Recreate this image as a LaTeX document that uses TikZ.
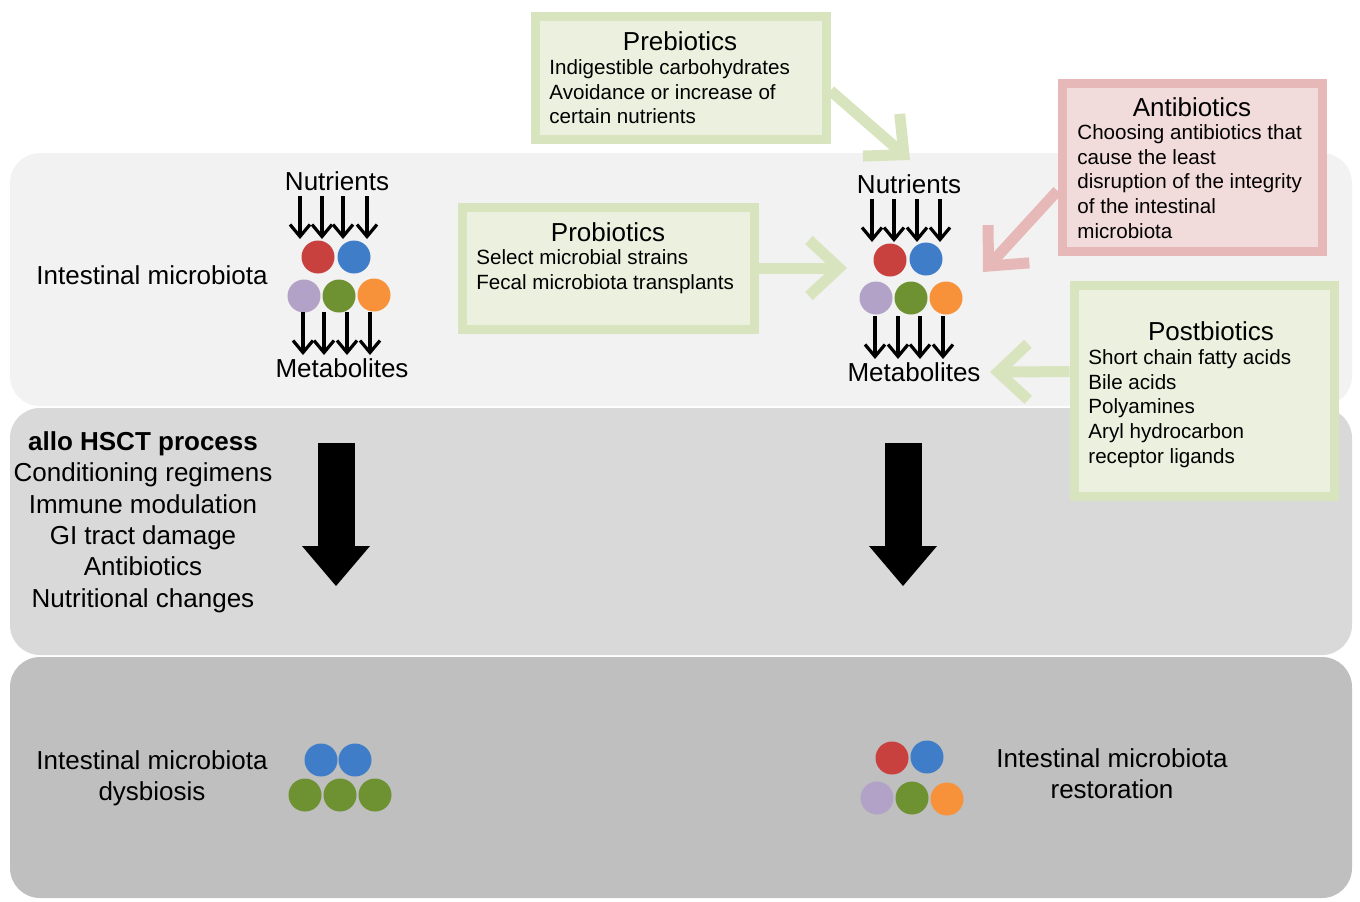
\documentclass[tikz,border=0pt]{standalone}
\usepackage{fontspec}
\setmainfont{Liberation Sans}
\usepackage{tikz}
\usetikzlibrary{arrows.meta,positioning}
\definecolor{bandA}{HTML}{F2F2F2}
\definecolor{bandB}{HTML}{D9D9D9}
\definecolor{bandC}{HTML}{BFBFBF}
\definecolor{greenfill}{HTML}{EBF1DE}
\definecolor{greenline}{HTML}{D7E4BD}
\definecolor{pinkfill}{HTML}{F2DCDB}
\definecolor{pinkline}{HTML}{E6B9B8}
\definecolor{mred}{HTML}{C9413F}
\definecolor{mblue}{HTML}{3F7DC8}
\definecolor{mlilac}{HTML}{B3A2C7}
\definecolor{mgreen}{HTML}{6E9132}
\definecolor{morange}{HTML}{F7923A}
\tikzset{band/.style={rounded corners=15pt,inner sep=0pt,minimum width=671pt}}
\tikzset{gbox/.style={draw=greenline,fill=greenfill,line width=4.5pt,inner sep=0pt}}
\tikzset{rbox/.style={draw=pinkline,fill=pinkfill,line width=4.5pt,inner sep=0pt}}
\tikzset{boxtitle/.style={font=\fontsize{13}{15.5}\selectfont,inner sep=0pt,anchor=base}}
\tikzset{boxbody/.style={font=\fontsize{10.3}{12.4}\selectfont,align=left,inner sep=0pt,anchor=north west}}
\tikzset{txt/.style={font=\fontsize{13}{15.7}\selectfont,inner sep=0pt,align=center}}
\tikzset{bug/.style={circle,inner sep=0pt,minimum size=16.5pt}}
\tikzset{flow/.style={line width=1.6pt,-{Straight Barb[length=6pt,width=10pt]}}}
\tikzset{hint/.style={line width=5.5pt,-{Straight Barb[length=15pt,width=28pt]}}}
\tikzset{bigdown/.style={line width=18.5pt,-{Triangle[length=20pt,width=34pt,line width=0pt]}}}

\begin{document}
\begin{tikzpicture}[x=0.5pt,y=-0.5pt]
    \useasboundingbox (0,0) rectangle (1360,901);
    \node[band,fill=bandA,minimum height=126.5pt] (upper) at (681,279.5) {};
    \node[band,fill=bandB,minimum height=123.5pt] (middle) at (681,531.5) {};
    \node[band,fill=bandC,minimum height=120.5pt] (lower) at (681,777.5) {};

    \node[gbox,minimum width=145.5pt,minimum height=61.5pt] (pre) at (680.5,77.5) {};
    \node[gbox,minimum width=146pt,minimum height=61pt] (pro) at (608,268) {};
    \node[rbox,minimum width=130pt,minimum height=84pt] (anti) at (1192,167) {};
    \node[gbox,minimum width=130pt,minimum height=105.5pt] (post) at (1204,390.5) {};

    \coordinate (preTip) at (910,160);
    \coordinate (proTip) at (847,268);
    \coordinate (antiTip) at (983,272);
    \coordinate (postTip) at (990,372);
    \draw[hint,greenline] (pre.-5) -- (preTip);
    \draw[hint,greenline] (pro.east) -- (proTip);
    \draw[hint,pinkline] (anti.190) -- (antiTip);
    \draw[hint,greenline] (post.172) -- (postTip);

    \node[boxtitle] (preHead) at (680,50) {Prebiotics};
    \node[boxbody] (preText) at (549,59) {Indigestible carbohydrates\\Avoidance or increase of\\certain nutrients};
    \node[boxtitle] (proHead) at (608,241) {Probiotics};
    \node[boxbody] (proText) at (476,249) {Select microbial strains\\Fecal microbiota transplants};
    \node[boxtitle] (antiHead) at (1192,116) {Antibiotics};
    \node[boxbody] (antiText) at (1077,124) {Choosing antibiotics that\\cause the least\\disruption of the integrity\\of the intestinal\\microbiota};
    \node[boxtitle] (postHead) at (1211,340) {Postbiotics};
    \node[boxbody] (postText) at (1088,349) {Short chain fatty acids\\Bile acids\\Polyamines\\Aryl hydrocarbon\\receptor ligands};

    \node[txt,anchor=base] (gutL) at (152,284) {Intestinal microbiota};
    \node[txt,anchor=base] (nutL) at (337,190) {Nutrients};
    \node[txt,anchor=base] (metL) at (342,377) {Metabolites};
    \node[txt,anchor=base] (nutR) at (909,193) {Nutrients};
    \node[txt,anchor=base] (metR) at (914,381) {Metabolites};

    \node[bug,fill=mred] (redL) at (318,257) {};
    \node[bug,fill=mblue] (blueL) at (354,257) {};
    \node[bug,fill=mlilac] (lilacL) at (304,296) {};
    \node[bug,fill=mgreen] (greenL) at (339,296) {};
    \node[bug,fill=morange] (orangeL) at (374,295) {};
    \node[bug,fill=mred] (redR) at (890,260) {};
    \node[bug,fill=mblue] (blueR) at (926,259) {};
    \node[bug,fill=mlilac] (lilacR) at (876,298) {};
    \node[bug,fill=mgreen] (greenR) at (911,298) {};
    \node[bug,fill=morange] (orangeR) at (946,298) {};

    \foreach \x [count=\i] in {300,322,343,367} {
      \coordinate (inL\i) at (\x,196);
      \coordinate (atL\i) at (\x,239);
      \draw[flow] (inL\i) -- (atL\i);
    }
    \foreach \x [count=\i] in {303,324,347,370} {
      \coordinate (fromL\i) at (\x,312);
      \coordinate (outL\i) at (\x,355);
      \draw[flow] (fromL\i) -- (outL\i);
    }
    \foreach \x [count=\i] in {872,894,917,940} {
      \coordinate (inR\i) at (\x,199);
      \coordinate (atR\i) at (\x,242);
      \draw[flow] (inR\i) -- (atR\i);
    }
    \foreach \x [count=\i] in {875,898,920,943} {
      \coordinate (fromR\i) at (\x,316);
      \coordinate (outR\i) at (\x,359);
      \draw[flow] (fromR\i) -- (outR\i);
    }

    \node[txt,anchor=north] (hsct) at (143,431) {\textbf{allo HSCT process}\\Conditioning regimens\\Immune modulation\\GI tract damage\\Antibiotics\\Nutritional changes};
    \coordinate (dropL) at (336,443);
    \coordinate (landL) at (336,586);
    \coordinate (dropR) at (903,443);
    \coordinate (landR) at (903,586);
    \draw[bigdown] (dropL) -- (landL);
    \draw[bigdown] (dropR) -- (landR);

    \node[txt,anchor=north] (dysb) at (152,750) {Intestinal microbiota\\dysbiosis};
    \node[bug,fill=mblue] (blueD1) at (321,760) {};
    \node[bug,fill=mblue] (blueD2) at (355,760) {};
    \node[bug,fill=mgreen] (greenD1) at (305,795) {};
    \node[bug,fill=mgreen] (greenD2) at (340,795) {};
    \node[bug,fill=mgreen] (greenD3) at (375,795) {};

    \node[txt,anchor=north] (rest) at (1112,748) {Intestinal microbiota\\restoration};
    \node[bug,fill=mred] (redE) at (892,758) {};
    \node[bug,fill=mblue] (blueE) at (927,757) {};
    \node[bug,fill=mlilac] (lilacE) at (877,798) {};
    \node[bug,fill=mgreen] (greenE) at (912,798) {};
    \node[bug,fill=morange] (orangeE) at (947,799) {};
  \end{tikzpicture}
\end{document}
